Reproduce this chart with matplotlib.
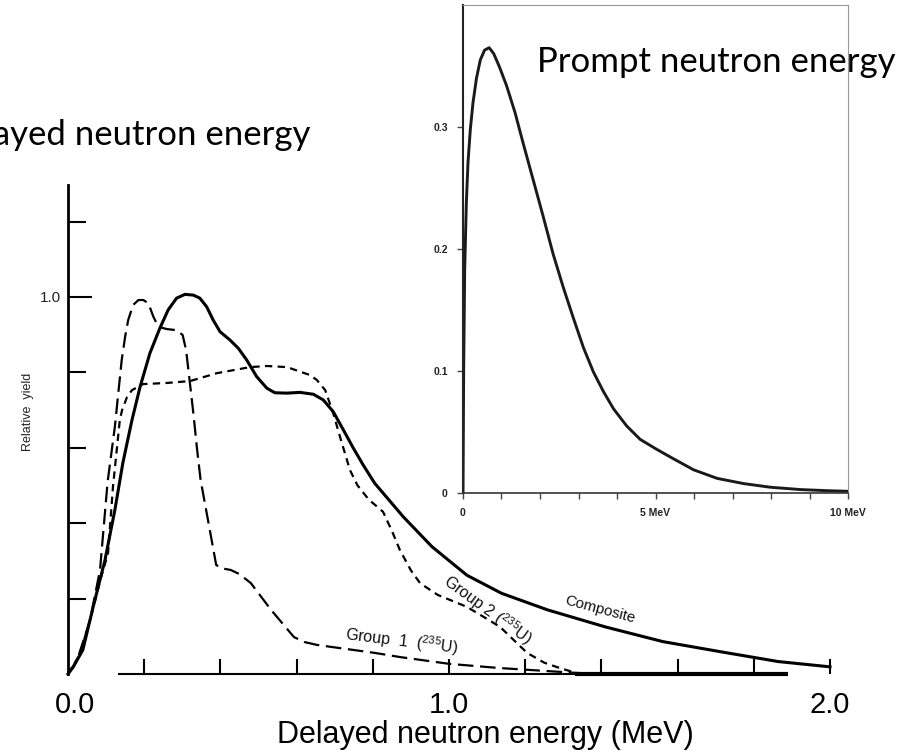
import matplotlib
matplotlib.use('Agg')
import matplotlib.pyplot as plt
import matplotlib.transforms as mtransforms

plt.rcParams['font.family'] = ['Liberation Sans', 'DejaVu Sans']
plt.rcParams['mathtext.fontset'] = 'custom'
plt.rcParams['mathtext.rm'] = 'Liberation Sans'

# delayed neutron spectra (MeV, relative yield)
comp_e = [0, 0.014, 0.039, 0.066, 0.097, 0.123, 0.144, 0.168, 0.189, 0.215, 0.241, 0.263,
          0.285, 0.307, 0.329, 0.346, 0.364, 0.381, 0.399, 0.425, 0.447, 0.469, 0.495, 0.522,
          0.543, 0.574, 0.609, 0.644, 0.67, 0.696, 0.723, 0.749, 0.775, 0.805, 0.88, 0.955,
          1.047, 1.138, 1.259, 1.41, 1.561, 1.713, 1.864, 2.0]
comp_y = [0, 0.019, 0.064, 0.178, 0.302, 0.435, 0.56, 0.674, 0.761, 0.851, 0.917, 0.966,
          0.997, 1.007, 1.005, 0.997, 0.974, 0.939, 0.908, 0.886, 0.864, 0.833, 0.789, 0.758,
          0.746, 0.745, 0.747, 0.742, 0.727, 0.696, 0.647, 0.599, 0.554, 0.506, 0.417, 0.338,
          0.262, 0.214, 0.17, 0.125, 0.086, 0.059, 0.033, 0.019]

grp1_e = [0, 0.024, 0.058, 0.084, 0.104, 0.123, 0.132, 0.141, 0.15, 0.158, 0.171, 0.185,
          0.198, 0.211, 0.224, 0.237, 0.259, 0.285, 0.301, 0.31, 0.318, 0.329, 0.339, 0.348,
          0.366, 0.389, 0.405, 0.427, 0.45, 0.48, 0.533, 0.593, 0.62, 0.654, 0.805, 0.871,
          1.0, 1.13, 1.333, 1.40]
grp1_y = [0, 0.037, 0.143, 0.276, 0.51, 0.656, 0.745, 0.833, 0.895, 0.939, 0.979, 0.992,
          0.992, 0.983, 0.948, 0.921, 0.915, 0.912, 0.899, 0.859, 0.789, 0.692, 0.594, 0.515,
          0.416, 0.289, 0.28, 0.276, 0.265, 0.241, 0.17, 0.098, 0.085, 0.077, 0.056, 0.045,
          0.027, 0.016, 0.003, 0.0]

grp2_e = [0, 0.03, 0.06, 0.085, 0.105, 0.118, 0.136, 0.142, 0.155, 0.168, 0.197, 0.26,
          0.32, 0.391, 0.478, 0.522, 0.575, 0.635, 0.653, 0.675, 0.696, 0.714, 0.74, 0.76,
          0.79, 0.81, 0.827, 0.85, 0.871, 0.9, 0.924, 0.97, 1.047, 1.09, 1.134, 1.17, 1.205,
          1.25, 1.29, 1.333]
grp2_y = [0, 0.05, 0.15, 0.25, 0.32, 0.496, 0.674, 0.70, 0.735, 0.753, 0.769, 0.772,
          0.777, 0.798, 0.814, 0.817, 0.814, 0.793, 0.78, 0.753, 0.692, 0.629, 0.541, 0.50,
          0.462, 0.445, 0.43, 0.38, 0.329, 0.275, 0.241, 0.21, 0.178, 0.152, 0.125, 0.09,
          0.056, 0.03, 0.016, 0.003]

# prompt fission spectrum (inset)
pr_e = [0, 0.017, 0.043, 0.087, 0.13, 0.19, 0.26, 0.35, 0.45, 0.56, 0.68, 0.8, 0.95, 1.13,
        1.35, 1.56, 1.82, 2.08, 2.34, 2.6, 2.86, 3.13, 3.39, 3.65, 3.91, 4.25, 4.6, 5.02,
        5.47, 5.99, 6.6, 7.29, 7.99, 8.77, 9.46, 10]
pr_v = [0, 0.1, 0.182, 0.238, 0.271, 0.298, 0.32, 0.34, 0.355, 0.363, 0.365, 0.36, 0.349,
        0.334, 0.312, 0.287, 0.257, 0.227, 0.196, 0.169, 0.144, 0.119, 0.099, 0.083, 0.069,
        0.055, 0.044, 0.036, 0.028, 0.019, 0.012, 0.0077, 0.0047, 0.0028, 0.0019, 0.0014]

main_xticks = [0, 0.2, 0.4, 0.6, 0.8, 1.0, 1.2, 1.4, 1.6, 1.8, 2.0]
main_xlabels = ['0.0', '', '', '', '', '1.0', '', '', '', '', '2.0']
main_yticks = [0.2, 0.4, 0.6, 0.8, 1.0, 1.2]
main_ylabels = ['', '', '', '', '1.0', '']

in_xticks = list(range(11))
in_xlabels = ['0', '', '', '', '', '5 MeV', '', '', '', '', '10 MeV']
in_yticks = [0, 0.1, 0.2, 0.3]
in_ylabels = ['0', '0.1', '0.2', '0.3']

W, H = 904, 754
fig = plt.figure(figsize=(W / 100, H / 100), dpi=100)

# ---- main (delayed) plot ----
ax = fig.add_axes([68 / W, 80 / H, 762 / W, 489 / H])
ax.set_xlim(0, 2.0)
ax.set_ylim(0, 489 / 377)
for s in ['top', 'right', 'bottom']:
    ax.spines[s].set_visible(False)
ax.spines['left'].set_linewidth(2)

ax.plot(comp_e, comp_y, color='black', lw=2.2, solid_joinstyle='round', clip_on=False)
ax.plot(grp1_e, grp1_y, color='black', lw=1.6, dashes=(7, 3), clip_on=False)
ax.plot(grp2_e, grp2_y, color='black', lw=1.6, dashes=(3.3, 2.4), clip_on=False)

# broken baseline from the scan
ax.hlines(0, 0.13, 1.33, color='black', lw=1.5, clip_on=False)
ax.hlines(0, 1.33, 1.89, color='black', lw=3, clip_on=False)

ax.set_yticks(main_yticks)
ax.set_yticklabels(main_ylabels, fontsize=11, color='#222222')
ax.tick_params(axis='y', direction='in', length=13, width=1.5, pad=5)
ax.yaxis.get_major_ticks()[4].tick1line.set_markersize(17)

ax.set_xticks(main_xticks)
ax.set_xticklabels(main_xlabels, fontsize=21)
ax.tick_params(axis='x', direction='in', length=11, width=1.5, pad=12)
ax.xaxis.get_major_ticks()[0].tick1line.set_visible(False)
# the "0.0" sits a little right of the origin in the original
lab0 = ax.get_xticklabels()[0]
lab0.set_transform(lab0.get_transform() +
                   mtransforms.ScaledTranslation(7 / 100, 0, fig.dpi_scale_trans))

ax.text(1.396, 0.170, 'Composite', rotation=-15, fontsize=11,
        ha='center', va='center', color='#111111')
ax.text(1.102, 0.170, r'Group 2 ($\mathregular{^{235}}$U)', rotation=-36, fontsize=11.5,
        ha='center', va='center', color='#111111')
ax.text(0.877, 0.087, r'Group  1  ($\mathregular{^{235}}$U)', rotation=-7, fontsize=11.5,
        ha='center', va='center', color='#111111')

fig.text(28 / W, 1 - 412 / H, 'Relative  yield', rotation=90, fontsize=9,
         ha='center', va='center', color='#222222')
fig.text(485 / W, 1 - 735 / H, 'Delayed neutron energy (MeV)', fontsize=22,
         ha='center', va='center')

# ---- inset (prompt) ----
axin = fig.add_axes([463 / W, 261 / H, 385 / W, 488 / H])
axin.set_xlim(0, 10)
axin.set_ylim(0, 0.4)
axin.plot(pr_e, pr_v, color='#1a1a1a', lw=2.1, solid_joinstyle='round')
axin.spines['left'].set_color('#222222')
axin.spines['left'].set_linewidth(1.5)
axin.spines['bottom'].set_color('#333333')
axin.spines['bottom'].set_linewidth(1.2)
for s in ['top', 'right']:
    axin.spines[s].set_color('#999999')
    axin.spines[s].set_linewidth(0.8)
axin.set_xticks(in_xticks)
axin.set_xticklabels(in_xlabels, fontsize=7.5, fontweight='bold', color='#222222')
axin.set_yticks(in_yticks)
axin.set_yticklabels(in_ylabels, fontsize=7.5, fontweight='bold', color='#222222')
axin.tick_params(axis='x', direction='out', length=4.5, width=1, pad=6, color='#444444')
axin.tick_params(axis='y', direction='out', length=4, width=1, pad=7, color='#444444')

# slide titles (the left one runs off the slide edge in the original)
fig.text(310 / W, 1 - 145 / H, 'Delayed neutron energy', fontsize=25,
         family=['Lato', 'DejaVu Sans'], ha='right', va='baseline')
fig.text(537 / W, 1 - 72 / H, 'Prompt neutron energy', fontsize=25,
         family=['Lato', 'DejaVu Sans'], ha='left', va='baseline')

fig.savefig('out.png', dpi=100)
